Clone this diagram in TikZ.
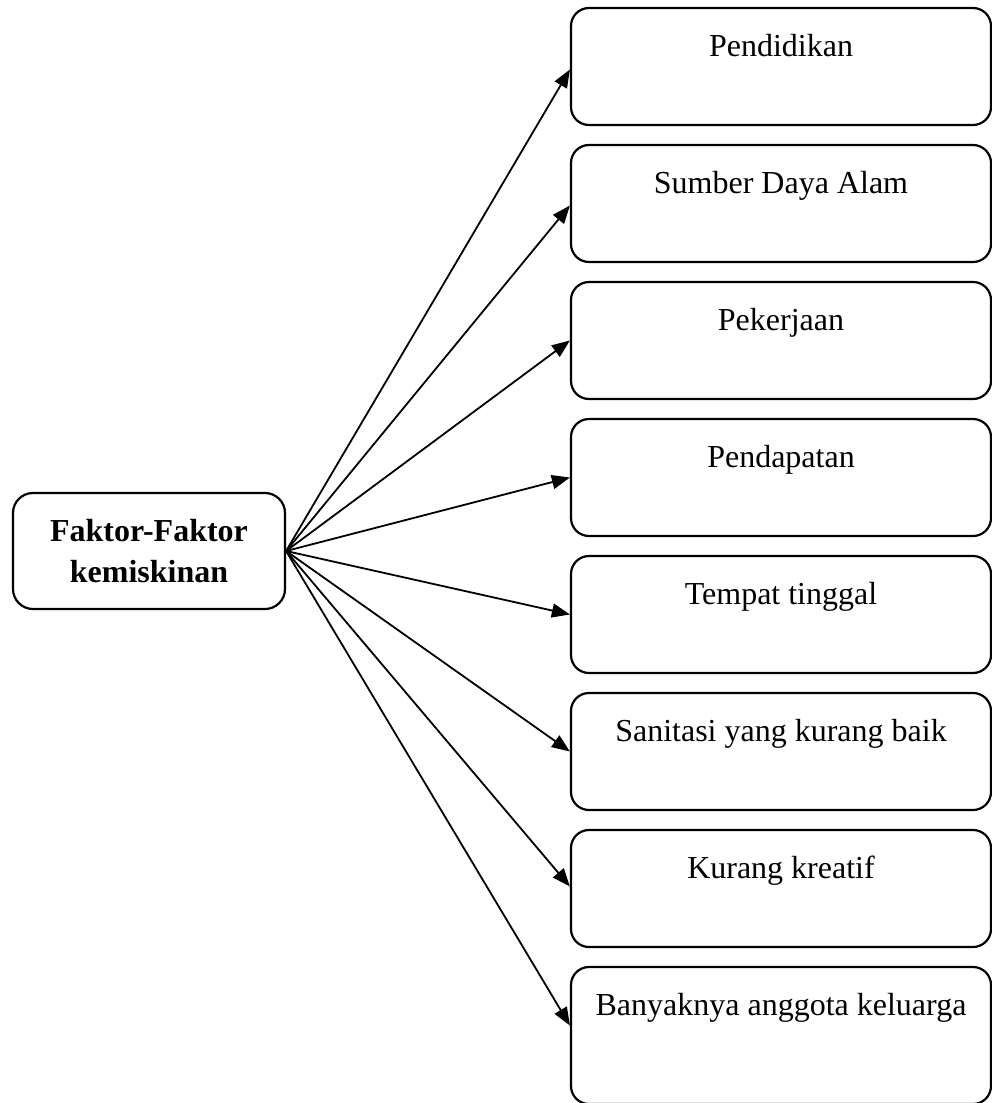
\documentclass[tikz,border=0pt]{standalone}
\usepackage{fontspec}
\setmainfont{Liberation Serif}
\usetikzlibrary{positioning,arrows.meta}
\begin{document}
\begin{tikzpicture}[x=0.5pt,y=-0.5pt]
\useasboundingbox (0,0) rectangle (991,1103);
\tikzset{
  factor/.style={rectangle, rounded corners=9pt, minimum width=210pt, inner sep=3pt, text height=21pt, text depth=31.5pt, draw=black, line width=1.1pt, font=\fontsize{16}{18}\selectfont},
  link/.style={-{Triangle[length=9pt,width=7pt]}, line width=0.9pt}
}
\node[rectangle, rounded corners=10pt, minimum width=136pt, minimum height=58pt, align=center, draw=black, line width=1.1pt, font=\bfseries\fontsize{16}{20.5}\selectfont] (F) at (149,551) {Faktor-Faktor\\kemiskinan};
\node[factor] (B1) at (781,66.5) {Pendidikan};
\node[factor, below=8.9pt of B1] (B2) {Sumber Daya Alam};
\node[factor, below=8.9pt of B2] (B3) {Pekerjaan};
\node[factor, below=8.9pt of B3] (B4) {Pendapatan};
\node[factor, below=8.9pt of B4] (B5) {Tempat tinggal};
\node[factor, below=8.9pt of B5] (B6) {Sanitasi yang kurang baik};
\node[factor, below=8.9pt of B6] (B7) {Kurang kreatif};
\node[factor, below=8.9pt of B7, text depth=41.5pt] (B8) {Banyaknya anggota keluarga};
\draw[link] (F.east) -- ([yshift=-1.5pt]B1.west);
\draw[link] (F.east) -- ([yshift=-1pt]B2.west);
\draw[link] (F.east) -- (B3.west);
\draw[link] (F.east) -- (B4.west);
\draw[link] (F.east) -- (B5.west);
\draw[link] (F.east) -- (B6.west);
\draw[link] (F.east) -- ([yshift=1pt]B7.west);
\draw[link] (F.east) -- ([yshift=5pt]B8.west);
\end{tikzpicture}
\end{document}
